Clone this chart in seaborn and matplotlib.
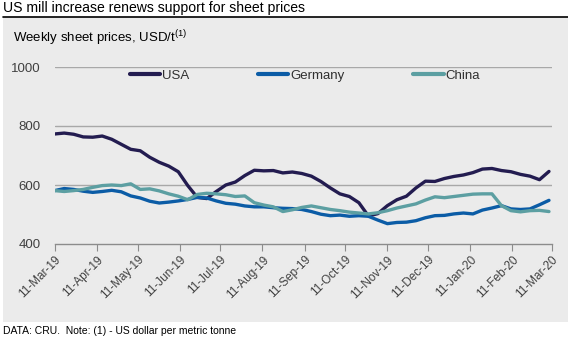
import numpy as np
import pandas as pd
import matplotlib
matplotlib.use("Agg")
import matplotlib.pyplot as plt
from matplotlib.patches import Rectangle
from matplotlib.lines import Line2D
import seaborn as sns

# ---------------- data ----------------
dates = pd.date_range("2019-03-11", periods=53, freq="7D")
usa = [773, 776, 772, 763, 762, 766, 755, 738, 721, 716, 694, 677, 664, 645, 598, 558,
       554, 578, 600, 610, 632, 650, 648, 649, 641, 644, 639, 630, 612, 590, 570, 561,
       540, 495, 503, 530, 550, 562, 590, 613, 612, 622, 629, 634, 642, 654, 656, 649,
       645, 636, 630, 618, 646]
germany = [581, 588, 585, 579, 575, 578, 582, 577, 563, 556, 545, 539, 542, 546, 551, 558,
           556, 546, 538, 535, 529, 526, 526, 523, 521, 520, 517, 510, 501, 496, 498, 494,
           496, 494, 481, 469, 473, 474, 479, 489, 496, 497, 502, 505, 502, 515, 522, 530,
           519, 517, 519, 533, 548]
china = [581, 578, 581, 585, 592, 598, 600, 598, 604, 585, 587, 580, 570, 562, 550, 568,
         572, 570, 567, 561, 563, 540, 532, 526, 510, 516, 524, 529, 523, 517, 513, 508,
         505, 502, 506, 513, 522, 529, 536, 549, 560, 557, 561, 565, 569, 570, 570, 530,
         513, 509, 513, 514, 510]
series_names = ["USA", "Germany", "China"]
colors = ["#231c50", "#0b5ca6", "#5c9fa2"]
yticks = [400, 600, 800, 1000]
tick_dates = pd.date_range("2019-03-11", periods=13, freq=pd.DateOffset(months=1))

df = pd.DataFrame({
    "date": np.tile(dates, 3),
    "price": usa + germany + china,
    "country": np.repeat(series_names, len(dates)),
})

# ---------------- figure ----------------
sns.set_theme(style="white")
plt.rcParams["font.family"] = ["Liberation Sans", "DejaVu Sans"]
plt.rcParams["mathtext.fontset"] = "custom"
plt.rcParams["mathtext.rm"] = "Liberation Sans"
plt.rcParams["mathtext.it"] = "Liberation Sans"

W, H = 568, 341
fig = plt.figure(figsize=(W / 100, H / 100), dpi=100)
fig.patch.set_facecolor("white")

def fx(px):
    return px / W

def fy(py):
    return 1 - py / H

# grey panel and title rule
fig.add_artist(Rectangle((fx(3), fy(322)), fx(565), (322 - 17) / H,
                         transform=fig.transFigure, facecolor="#ebebeb",
                         edgecolor="none", zorder=-10))
fig.add_artist(Line2D([fx(3), 1], [fy(16.5), fy(16.5)], color="black", lw=1.2,
                      transform=fig.transFigure, zorder=-5))

fig.text(fx(3), fy(8), "US mill increase renews support for sheet prices",
         fontsize=10.1, color="black", va="center", ha="left")
fig.text(fx(13), fy(38.5), r"Weekly sheet prices, USD/t$^{(1)}$",
         fontsize=9.5, color="black", va="center", ha="left")
fig.text(fx(3), fy(330.5), "DATA: CRU.  Note: (1) - US dollar per metric tonne",
         fontsize=7.5, color="black", va="center", ha="left")

ax = fig.add_axes([fx(54.7), fy(244), fx(551.7 - 54.7), (244 - 67) / H])
ax.set_zorder(5)
ax.set_facecolor("none")

sns.lineplot(data=df, x="date", y="price", hue="country", palette=colors,
             hue_order=series_names, linewidth=2.4, ax=ax, legend=False)

ax.set_xlim(pd.Timestamp("2019-03-11"), pd.Timestamp("2020-03-11"))
ax.set_ylim(400, 1000)
ax.set_yticks(yticks)
ax.set_yticklabels([str(v) for v in yticks], fontsize=9.5, color="#404040")
ax.set_xticks(tick_dates)
ax.set_xticklabels([d.strftime("%d-%b-%y") for d in tick_dates], rotation=45,
                   ha="right", rotation_mode="anchor", fontsize=8.5, color="#404040")
ax.set_xlabel("")
ax.set_ylabel("")

for v in yticks[1:]:
    ax.axhline(v, color="#a8a8a8", lw=1.0, zorder=0)

for s in ["top", "right", "left"]:
    ax.spines[s].set_visible(False)
ax.spines["bottom"].set_color("#8c8c8c")
ax.spines["bottom"].set_linewidth(1.0)
ax.tick_params(axis="x", which="major", length=5, width=0.8, color="#8c8c8c",
               direction="out", pad=2, bottom=True)
ax.tick_params(axis="y", length=0, pad=10)

handles = [Line2D([], [], color=c, lw=3) for c in colors]
ax.legend(handles, series_names, ncol=3, frameon=False, fontsize=9.5,
          loc="center left", bbox_to_anchor=((128 - 54.7) / 497 - 0.02, 0.95),
          handlelength=2.3, handletextpad=0.15, columnspacing=5.2, labelcolor="#303030")

fig.savefig("out.png", dpi=100, facecolor="white")
